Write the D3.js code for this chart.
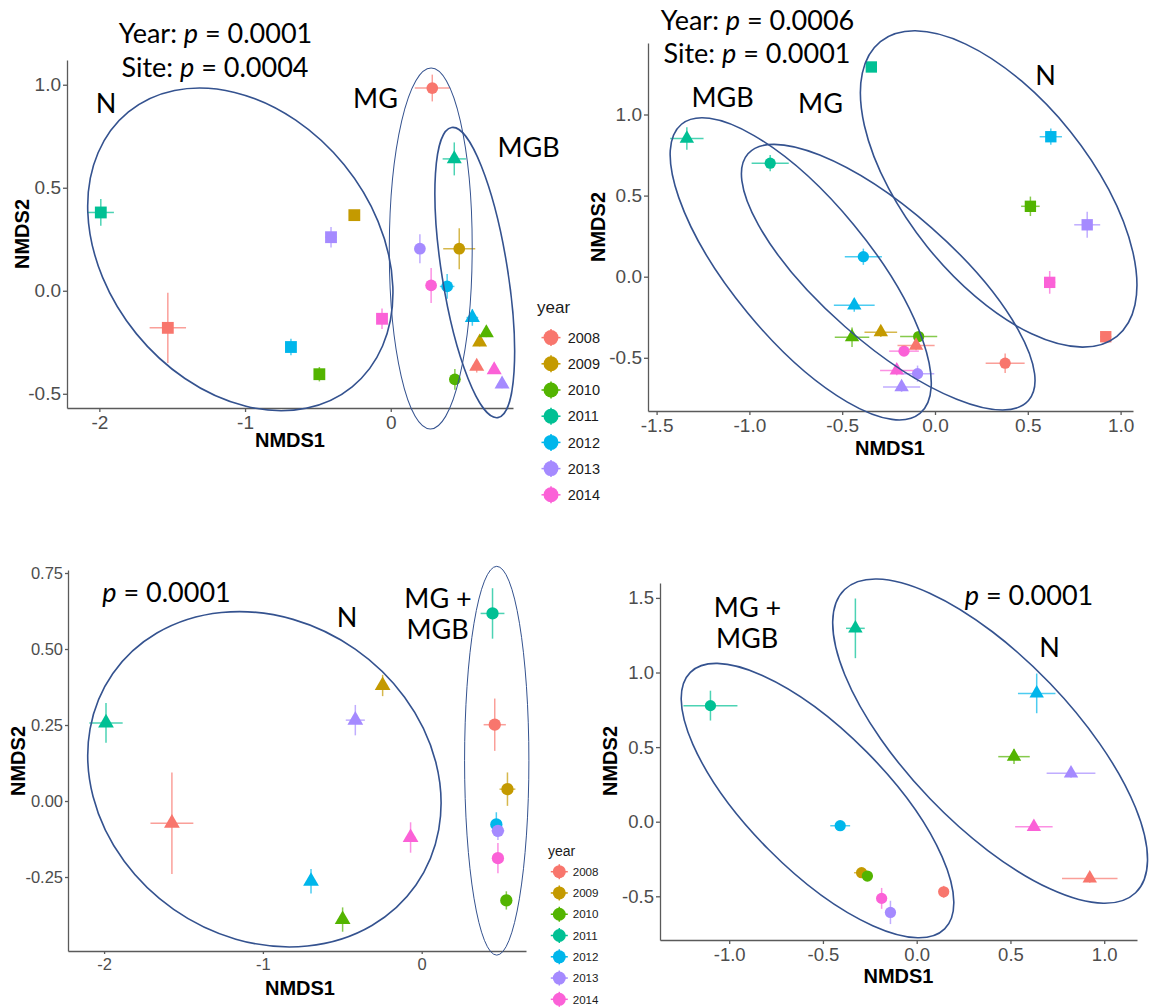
<!DOCTYPE html>
<html>
<head>
<meta charset="utf-8">
<script src="https://cdn.jsdelivr.net/npm/d3@7"></script>
<style>
  body { margin: 0; background: #fff; }
  svg text { font-family: "Liberation Sans", Arial, sans-serif; }
  .note { font-family: Lato, "Open Sans", sans-serif; fill: #000; }
</style>
</head>
<body>
<svg id="chart" width="1150" height="1008"></svg>
<script>
const years = ["2008", "2009", "2010", "2011", "2012", "2013", "2014"];
const yearColors = ["#F8766D", "#C49A00", "#53B400", "#00C094", "#00B6EB", "#A58AFF", "#FB61D7"];

// one row per year (2008..2014): [NMDS1, NMDS2, sd NMDS1, sd NMDS2], null = not sampled
// panel 1, top left
const p1N = [[-1.53, -0.18, 0.125, 0.17], [-0.25, 0.367, 0.02, 0.02], [-0.49, -0.405, 0.025, 0.035], [-1.99, 0.38, 0.09, 0.065], [-0.685, -0.273, 0.03, 0.04], [-0.41, 0.26, 0.04, 0.05], [-0.06, -0.136, 0.02, 0.05]];
const p1MG = [[0.285, 0.984, 0.12, 0.065], [0.47, 0.204, 0.11, 0.10], [0.44, -0.43, 0.02, 0.05], null, [0.387, 0.021, 0.05, 0.06], [0.2, 0.204, 0.03, 0.07], [0.277, 0.026, 0.02, 0.085]];
const p1MGB = [[0.59, -0.367, 0.03, 0.03], [0.61, -0.25, 0.025, 0.02], [0.656, -0.205, 0.03, 0.02], [0.436, 0.64, 0.08, 0.08], [0.56, -0.13, 0.04, 0.04], [0.764, -0.453, 0.03, 0.02], [0.71, -0.384, 0.03, 0.02]];
// panel 2, top right
const p2N = [[0.92, -0.37, 0.03, 0.03], null, [0.514, 0.434, 0.05, 0.06], [-0.343, 1.293, 0.03, 0.03], [0.624, 0.863, 0.06, 0.05], [0.82, 0.32, 0.07, 0.08], [0.618, -0.035, 0.03, 0.07]];
const p2MG = [[0.378, -0.533, 0.105, 0.06], null, [-0.088, -0.369, 0.1, 0.02], [-0.888, 0.70, 0.1, 0.05], [-0.386, 0.123, 0.1, 0.05], [-0.094, -0.598, 0.09, 0.05], [-0.167, -0.459, 0.08, 0.03]];
const p2MGB = [[-0.102, -0.424, 0.1, 0.03], [-0.292, -0.342, 0.088, 0.03], [-0.447, -0.373, 0.093, 0.06], [-1.337, 0.852, 0.09, 0.07], [-0.435, -0.176, 0.11, 0.04], [-0.18, -0.68, 0.1, 0.03], [-0.206, -0.578, 0.09, 0.03]];
// panel 3, bottom left
const p3N = [[-1.573, -0.073, 0.135, 0.167], [-0.246, 0.38, 0.03, 0.035], [-0.498, -0.39, 0.03, 0.04], [-1.988, 0.257, 0.105, 0.065], [-0.697, -0.264, 0.025, 0.04], [-0.418, 0.266, 0.06, 0.05], [-0.07, -0.12, 0.03, 0.05]];
const p3MGMGB = [[0.46, 0.251, 0.07, 0.086], [0.54, 0.039, 0.05, 0.055], [0.533, -0.327, 0.02, 0.03], [0.446, 0.617, 0.075, 0.083], [0.47, -0.077, 0.02, 0.04], [0.48, -0.098, 0.04, 0.03], [0.48, -0.188, 0.02, 0.05]];
// panel 4, bottom right
const p4N = [[0.923, -0.38, 0.148, 0.03], null, [0.519, 0.436, 0.084, 0.05], [-0.327, 1.296, 0.05, 0.2], [0.64, 0.86, 0.1, 0.133], [0.823, 0.324, 0.13, 0.03], [0.625, -0.034, 0.1, 0.02]];
const p4MGMGB = [[0.144, -0.47, 0.02, 0.04], [-0.294, -0.342, 0.04, 0.03], [-0.263, -0.364, 0.03, 0.03], [-1.1, 0.778, 0.144, 0.1], [-0.408, -0.027, 0.053, 0.02], [-0.14, -0.608, 0.02, 0.078], [-0.187, -0.514, 0.02, 0.07]];

// hand drawn site ellipses, in data units: [xmin, xmax, ymin, ymax, x at top]
const p1Ellipses = [[-2.08, 0.015, -0.582, 0.984, -1.313], [-0.01, 0.559, -0.671, 1.081, 0.277], [0.303, 0.85, -0.616, 0.793, 0.426]];
const p2Ellipses = [[-1.427, -0.02, -0.883, 0.98, -1.255], [-1.043, 0.539, -0.822, 0.816, -0.867], [-0.402, 1.088, -0.434, 1.516, -0.11]];
const p3Ellipses = [[-2.103, 0.122, -0.48, 0.623, -1.149], [0.27, 0.675, -0.507, 0.772, 0.4725]];
const p4Ellipses = [[-1.256, 0.198, -0.778, 1.061, -1.07], [-0.448, 1.231, -0.547, 1.627, -0.22]];

const p1XTicks = [-2, -1, 0], p1YTicks = [-0.5, 0, 0.5, 1.0];
const p2XTicks = [-1.5, -1.0, -0.5, 0, 0.5, 1.0], p2YTicks = [-0.5, 0, 0.5, 1.0];
const p3XTicks = [-2, -1, 0], p3YTicks = [-0.25, 0, 0.25, 0.5, 0.75];
const p4XTicks = [-1.0, -0.5, 0, 0.5, 1.0], p4YTicks = [-0.5, 0, 0.5, 1.0, 1.5];

const svg = d3.select("#chart");
const ellipseColor = "#34528f";

const symbolTypes = { circle: d3.symbolCircle, square: d3.symbolSquare, triangle: d3.symbolTriangle };
const symbolSizes = { circle: 108, square: 140, triangle: 98 };

const hyphen = f => v => d3.format(f)(v).replace("\u2212", "-");

const panels = [
  { xr: [67, 513], yr: [408, 60], xd: [-2.222, 0.839], yd: [-0.569, 1.12],
    xt: p1XTicks, yt: p1YTicks, fx: "d", fy: ".1f", font: 19, tick: 4, ms: 1,
    series: [[p1N, "square"], [p1MG, "circle"], [p1MGB, "triangle"]],
    ellipses: p1Ellipses, ew: [1.6, 1, 1.6],
    xTitle: [290, 447], yTitle: [22, 234],
    notes: [["Year: *p* = 0.0001", 215.5, 43], ["Site: *p* = 0.0004", 215, 76.5], ["N", 106, 113], ["MG", 375.5, 108], ["MGB", 528.5, 157]] },
  { xr: [648, 1133], yr: [411, 43], xd: [-1.5463, 1.0668], yd: [-0.828, 1.4408],
    xt: p2XTicks, yt: p2YTicks, fx: ".1f", fy: ".1f", font: 19, tick: 4, ms: 0.92,
    series: [[p2N, "square"], [p2MG, "circle"], [p2MGB, "triangle"]],
    ellipses: p2Ellipses, ew: [1.6, 1.6, 1.6],
    xTitle: [890, 455], yTitle: [598, 227],
    notes: [["Year: *p* = 0.0006", 757.5, 29.5], ["Site: *p* = 0.0001", 757, 62.5], ["MGB", 722.5, 106.5], ["MG", 820.5, 113], ["N", 1045.5, 85]] },
  { xr: [68, 526], yr: [951, 570], xd: [-2.2273, 0.6568], yd: [-0.4934, 0.7599],
    xt: p3XTicks, yt: p3YTicks, fx: "d", fy: ".2f", font: 16.5, tick: 3, ms: 1.1,
    series: [[p3N, "triangle"], [p3MGMGB, "circle"]],
    ellipses: p3Ellipses, ew: [1.6, 1],
    xTitle: [300, 995], yTitle: [18, 761],
    notes: [["*p* = 0.0001", 166.5, 601.5], ["N", 347, 626.5], ["MG +", 438, 608], ["MGB", 437.5, 639]] },
  { xr: [660, 1137], yr: [940, 583], xd: [-1.369, 1.1749], yd: [-0.7929, 1.5999],
    xt: p4XTicks, yt: p4YTicks, fx: ".1f", fy: ".1f", font: 18.5, tick: 4, ms: 0.92,
    series: [[p4N, "triangle"], [p4MGMGB, "circle"]],
    ellipses: p4Ellipses, ew: [1.6, 1.6],
    xTitle: [898.5, 983], yTitle: [610, 761],
    notes: [["MG +", 747.5, 616.5], ["MGB", 747, 648], ["*p* = 0.0001", 1029, 605], ["N", 1049.5, 657]] }
];

function ellipseGeom(e, xs, ys) {
  const L = xs(e[0]), R = xs(e[1]), B = ys(e[2]), T = ys(e[3]), XT = xs(e[4]);
  const cx = (L + R) / 2, cy = (T + B) / 2, wx = (R - L) / 2, wy = (B - T) / 2;
  const off = XT - cx;
  const s2 = -2 * off * wy, c2 = wx * wx - wy * wy;
  const D = Math.hypot(s2, c2), S = wx * wx + wy * wy;
  return { cx, cy, a: Math.sqrt((S + D) / 2), b: Math.sqrt(Math.max(S - D, 0) / 2),
           deg: Math.atan2(s2, c2) / 2 * 180 / Math.PI };
}

panels.forEach(p => {
  const g = svg.append("g");
  const xs = d3.scaleLinear().domain(p.xd).range(p.xr);
  const ys = d3.scaleLinear().domain(p.yd).range(p.yr);

  const xAxis = d3.axisBottom(xs).tickValues(p.xt).tickFormat(hyphen(p.fx))
    .tickSizeInner(p.tick).tickSizeOuter(0).tickPadding(4);
  const yAxis = d3.axisLeft(ys).tickValues(p.yt).tickFormat(hyphen(p.fy))
    .tickSizeInner(p.tick).tickSizeOuter(0).tickPadding(2);

  g.append("g").attr("transform", "translate(0," + p.yr[0] + ")").call(xAxis);
  g.append("g").attr("transform", "translate(" + p.xr[0] + ",0)").call(yAxis);
  g.selectAll(".domain, .tick line").attr("stroke", "#5a5a5a").attr("stroke-width", 1.3);
  g.selectAll(".tick text").attr("fill", "#4d4d4d").style("font-size", p.font + "px")
    .style("font-family", "'Liberation Sans', Arial, sans-serif");

  g.append("text").attr("x", p.xTitle[0]).attr("y", p.xTitle[1])
    .attr("text-anchor", "middle").style("font-size", "20px").style("font-weight", "bold")
    .text("NMDS1");
  g.append("text").attr("transform", "translate(" + p.yTitle[0] + "," + p.yTitle[1] + ") rotate(-90)")
    .attr("text-anchor", "middle").attr("dominant-baseline", "central")
    .style("font-size", "20px").style("font-weight", "bold")
    .text("NMDS2");

  // error bars, then points
  p.series.forEach(([rows, shape]) => {
    const pts = rows.map((r, i) => r && { x: r[0], y: r[1], sx: r[2], sy: r[3], c: yearColors[i] }).filter(Boolean);
    const eb = g.append("g").attr("stroke-width", 1.5).attr("stroke-opacity", 0.7);
    eb.selectAll(".h").data(pts).join("line")
      .attr("x1", d => xs(d.x - d.sx)).attr("x2", d => xs(d.x + d.sx))
      .attr("y1", d => ys(d.y)).attr("y2", d => ys(d.y)).attr("stroke", d => d.c);
    eb.selectAll(".v").data(pts).join("line")
      .attr("x1", d => xs(d.x)).attr("x2", d => xs(d.x))
      .attr("y1", d => ys(d.y - d.sy)).attr("y2", d => ys(d.y + d.sy)).attr("stroke", d => d.c);
    g.append("g").selectAll("path").data(pts).join("path")
      .attr("transform", d => "translate(" + xs(d.x) + "," + ys(d.y) + ")")
      .attr("d", d3.symbol(symbolTypes[shape], symbolSizes[shape] * p.ms))
      .attr("fill", d => d.c);
  });

  p.ellipses.forEach((e, i) => {
    const el = ellipseGeom(e, xs, ys);
    g.append("ellipse").attr("cx", el.cx).attr("cy", el.cy).attr("rx", el.a).attr("ry", el.b)
      .attr("transform", "rotate(" + el.deg + "," + el.cx + "," + el.cy + ")")
      .attr("fill", "none").attr("stroke", ellipseColor).attr("stroke-width", p.ew[i]);
  });

  p.notes.forEach(([txt, x, y]) => {
    const t = g.append("text").attr("class", "note").attr("x", x).attr("y", y)
      .attr("text-anchor", "middle").style("font-size", "27px");
    txt.split("*").forEach((part, k) => {
      if (part) t.append("tspan").style("font-style", k % 2 ? "italic" : "normal").text(part);
    });
  });
});

// legends (only two of the four are visible in the composite)
const legends = [
  { x: 537, titleY: 313, keyX: 551, firstY: 337.6, step: 26.2, r: 7.5, textX: 567.7, font: 14.5, titleFont: 17 },
  { x: 548, titleY: 856, keyX: 559.3, firstY: 871.7, step: 21.27, r: 6.5, textX: 572.7, font: 11.6, titleFont: 14 }
];

legends.forEach(L => {
  const g = svg.append("g");
  g.append("text").attr("x", L.x).attr("y", L.titleY).style("font-size", L.titleFont + "px")
    .attr("fill", "#1a1a1a").text("year");
  const items = g.selectAll(".item").data(years).join("g")
    .attr("transform", (d, i) => "translate(0," + (L.firstY + i * L.step) + ")");
  items.append("line").attr("x1", L.keyX - L.r - 2).attr("x2", L.keyX + L.r + 2)
    .attr("stroke", (d, i) => yearColors[i]).attr("stroke-width", 1.5);
  items.append("line").attr("x1", L.keyX).attr("x2", L.keyX).attr("y1", -L.r - 1).attr("y2", L.r + 1)
    .attr("stroke", (d, i) => yearColors[i]).attr("stroke-width", 1.5);
  items.append("circle").attr("cx", L.keyX).attr("r", L.r).attr("fill", (d, i) => yearColors[i]);
  items.append("text").attr("x", L.textX).attr("dy", "0.36em")
    .style("font-size", L.font + "px").attr("fill", "#1a1a1a").text(d => d);
});
</script>
</body>
</html>
